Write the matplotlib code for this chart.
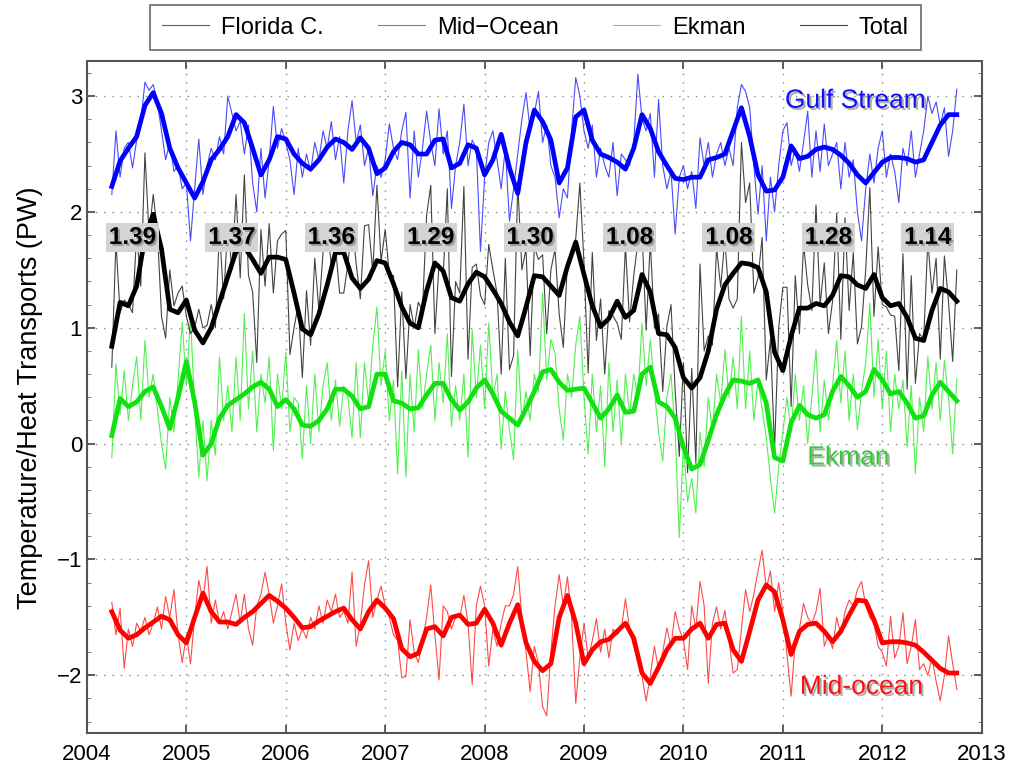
import numpy as np
import matplotlib
matplotlib.use('Agg')
import matplotlib.pyplot as plt
import matplotlib.patheffects as pe
from matplotlib.ticker import MultipleLocator

plt.rcParams['font.family'] = ['Liberation Sans', 'DejaVu Sans']

# thin series: half-monthly values starting 2004.25
florida_thin = [
    2.15, 2.70, 2.30, 2.55, 2.60, 2.38, 2.62, 2.78, 3.12, 3.05, 3.10, 2.95,
    2.70, 2.45, 2.60, 2.35, 2.40, 2.20, 2.25, 1.75, 2.20, 2.63, 2.15, 2.40,
    2.55, 2.45, 2.65, 2.50, 3.00, 2.85, 2.70, 2.78, 2.50, 2.75, 2.25, 2.00,
    2.55, 2.12, 2.45, 2.91, 2.55, 2.72, 2.60, 2.45, 2.15, 2.55, 2.30, 2.50,
    2.35, 2.60, 2.45, 2.70, 2.55, 2.78, 2.45, 2.65, 2.25, 2.70, 2.96, 2.60,
    2.75, 2.40, 2.55, 2.14, 2.40, 2.30, 2.45, 2.76, 2.55, 2.45, 2.70, 2.86,
    2.12, 2.70, 2.30, 2.55, 2.87, 2.60, 2.40, 2.89, 2.50, 2.70, 2.03, 2.40,
    2.60, 2.93, 2.40, 2.62, 2.55, 1.66, 2.30, 2.60, 2.70, 2.45, 2.20, 2.55,
    1.92, 2.20, 2.50, 2.80, 3.03, 2.70, 2.85, 3.04, 2.60, 2.75, 2.40, 2.30,
    1.95, 2.20, 2.12, 2.70, 3.16, 3.00, 2.70, 2.55, 2.75, 2.30, 2.55, 2.40,
    2.30, 2.60, 2.14, 2.50, 2.45, 2.40, 2.60, 3.19, 2.80, 2.70, 2.85, 2.30,
    2.97, 2.40, 2.20, 2.35, 1.81, 2.30, 2.40, 2.20, 2.35, 2.03, 2.64, 2.40,
    2.60, 2.30, 2.50, 2.60, 2.40, 2.55, 2.40, 2.90, 3.10, 3.04, 2.90, 2.40,
    1.98, 2.40, 1.75, 2.30, 2.00, 2.40, 2.70, 2.77, 2.40, 2.55, 2.35, 2.60,
    2.87, 2.30, 2.70, 2.35, 2.76, 2.40, 2.50, 2.60, 2.20, 2.60, 2.30, 2.45,
    2.00, 1.75, 2.20, 2.50, 2.25, 2.55, 2.70, 2.30, 2.50, 2.35, 2.08, 2.55,
    2.40, 2.70, 2.30, 2.50, 2.70, 3.00, 2.85, 2.95, 2.75, 2.90, 2.48, 2.70,
    3.06,
]
mid_thin = [
    -1.37, -1.65, -1.42, -1.94, -1.60, -1.75, -1.55, -1.62, -1.50, -1.65, -1.55, -1.41,
    -1.60, -1.32, -1.50, -1.26, -1.65, -1.89, -1.65, -1.90, -1.50, -1.18, -1.35, -1.06,
    -1.55, -1.35, -1.55, -1.45, -1.60, -1.45, -1.30, -1.55, -1.30, -1.60, -1.74, -1.40,
    -1.30, -1.11, -1.30, -1.55, -1.40, -1.21, -1.55, -1.78, -1.55, -1.70, -1.60, -1.68,
    -1.50, -1.60, -1.40, -1.55, -1.35, -1.45, -1.30, -1.50, -1.45, -1.55, -1.11, -1.75,
    -1.55, -1.22, -1.01, -1.50, -1.35, -1.23, -1.40, -1.50, -1.65, -1.70, -2.02, -2.01,
    -1.52, -1.80, -1.89, -1.70, -1.50, -1.22, -1.65, -2.04, -1.40, -1.45, -1.60, -1.50,
    -1.50, -1.31, -1.55, -2.08, -1.40, -1.23, -1.40, -1.92, -1.60, -1.75, -1.55, -1.40,
    -1.40, -1.30, -1.06, -1.50, -1.80, -2.14, -1.75, -1.90, -2.27, -2.35, -1.80, -1.40,
    -1.13, -1.40, -1.15, -1.50, -2.24, -1.85, -1.55, -1.85, -1.70, -1.51, -1.80, -1.60,
    -1.85, -1.60, -1.65, -1.60, -1.34, -1.60, -1.75, -1.85, -2.01, -2.22, -2.00, -1.75,
    -1.95, -1.80, -1.59, -1.75, -1.45, -1.60, -1.70, -1.95, -1.40, -1.60, -1.19, -1.40,
    -2.07, -1.55, -1.41, -1.60, -1.44, -1.70, -1.98, -1.95, -1.60, -1.26, -1.45, -1.30,
    -1.10, -0.92, -1.25, -1.10, -1.45, -1.20, -1.45, -1.82, -2.18, -1.70, -1.60, -1.38,
    -1.50, -1.55, -1.45, -1.25, -1.75, -1.65, -1.77, -1.50, -1.65, -1.45, -1.35, -1.40,
    -1.26, -1.19, -1.40, -1.50, -1.55, -1.75, -1.80, -1.92, -1.49, -1.85, -1.75, -1.46,
    -1.90, -1.75, -1.52, -1.95, -1.90, -2.00, -1.85, -2.05, -2.22, -2.00, -1.66, -1.90,
    -2.12,
]
ekman_thin = [
    -0.12, 0.69, 0.25, 0.63, 0.20, 0.50, 0.75, 0.20, 0.89, 0.40, 0.60, 0.30,
    0.00, -0.22, 0.40, 0.10, 0.55, 1.05, 0.50, 1.10, 0.30, -0.29, 0.20, -0.32,
    0.20, -0.10, 0.75, 0.20, 0.50, 0.10, 0.75, 0.20, 1.12, 0.30, 0.80, 0.10,
    0.60, 0.35, 0.75, -0.06, 0.60, 0.30, 0.79, 0.10, 0.40, 0.35, -0.13, 0.50,
    0.00, 0.60, 0.10, 0.50, 0.70, 0.20, 0.55, 0.15, 0.50, 0.40, 0.05, 0.70,
    0.05, 0.70, 0.35, 0.84, 1.18, 0.50, 0.80, 0.20, 0.55, -0.26, 0.63, -0.29,
    0.60, 0.10, 0.81, 0.30, 0.60, 0.85, 0.20, 0.70, 0.35, 0.95, 0.15, 0.50,
    0.20, 0.60, -0.12, 0.98, 0.40, 0.85, 0.30, 1.04, 0.40, 0.60, -0.05, 0.45,
    0.12, -0.14, 0.81, 0.20, 0.45, 0.20, 0.60, 0.45, 1.30, 0.55, 0.90, 0.78,
    0.30, 0.03, 0.60, 0.40, 0.85, 1.10, 0.40, -0.09, 0.60, 0.10, 0.50, -0.20,
    0.70, 0.10, 0.55, 0.00, 0.60, 0.25, 0.60, 0.40, 1.04, 0.50, 0.90, 0.45,
    0.10, -0.15, 0.40, 0.60, 0.10, -0.81, 0.00, -0.50, -0.30, -0.60, 0.10, -0.20,
    0.40, 0.10, 0.60, 0.35, 0.81, 0.40, 0.75, 0.30, 1.10, 0.30, 0.80, 0.20,
    0.55, 0.30, 0.05, -0.30, -0.60, -0.20, 0.10, 0.40, 0.10, 0.60, 0.20, 0.50,
    0.00, 0.40, 0.81, 0.10, 0.55, 0.20, 0.50, 0.89, 0.35, 0.80, 0.20, 0.60,
    0.12, 0.45, 0.70, 1.21, 0.40, 0.90, 0.30, 0.80, 0.10, 0.60, 0.30, 0.55,
    -0.03, 0.50, -0.26, 0.40, 0.10, 0.75, 0.30, 0.70, 0.20, 0.72, 0.40, -0.09,
    0.56,
]

# smoothed series: monthly values starting 2004.25
florida_smooth = [
    2.22, 2.44, 2.55, 2.65, 2.92, 3.03, 2.85, 2.55, 2.38, 2.25, 2.12, 2.26,
    2.45, 2.54, 2.65, 2.84, 2.77, 2.55, 2.32, 2.45, 2.65, 2.63, 2.50, 2.42,
    2.37, 2.45, 2.56, 2.63, 2.60, 2.54, 2.64, 2.55, 2.33, 2.38, 2.52, 2.60,
    2.58, 2.50, 2.50, 2.62, 2.63, 2.38, 2.42, 2.58, 2.55, 2.32, 2.45, 2.67,
    2.38, 2.16, 2.60, 2.88, 2.78, 2.62, 2.25, 2.38, 2.82, 2.88, 2.62, 2.50,
    2.47, 2.43, 2.37, 2.55, 2.84, 2.72, 2.52, 2.40, 2.29, 2.28, 2.30, 2.30,
    2.45, 2.47, 2.50, 2.70, 2.90, 2.65, 2.32, 2.18, 2.19, 2.30, 2.57, 2.46,
    2.48, 2.54, 2.56, 2.54, 2.49, 2.42, 2.32, 2.25, 2.34, 2.43, 2.47, 2.47,
    2.46, 2.43, 2.45, 2.60, 2.75, 2.84, 2.84,
]
mid_smooth = [
    -1.45, -1.61, -1.68, -1.65, -1.59, -1.54, -1.49, -1.52, -1.65, -1.72, -1.50, -1.29,
    -1.45, -1.54, -1.54, -1.56, -1.50, -1.45, -1.38, -1.31, -1.36, -1.42, -1.50, -1.59,
    -1.58, -1.53, -1.49, -1.45, -1.42, -1.52, -1.60, -1.45, -1.35, -1.42, -1.51, -1.77,
    -1.84, -1.81, -1.60, -1.58, -1.66, -1.50, -1.48, -1.56, -1.55, -1.43, -1.55, -1.74,
    -1.55, -1.39, -1.72, -1.88, -1.96, -1.90, -1.50, -1.31, -1.55, -1.90, -1.78, -1.71,
    -1.69, -1.62, -1.55, -1.68, -1.98, -2.07, -1.93, -1.78, -1.68, -1.68, -1.60, -1.55,
    -1.68, -1.56, -1.55, -1.78, -1.88, -1.62, -1.35, -1.22, -1.28, -1.52, -1.82, -1.62,
    -1.56, -1.55, -1.62, -1.71, -1.62, -1.48, -1.35, -1.36, -1.52, -1.72, -1.71, -1.71,
    -1.72, -1.74, -1.80, -1.87, -1.94, -1.98, -1.98,
]
ekman_smooth = [
    0.07, 0.39, 0.32, 0.36, 0.45, 0.49, 0.32, 0.13, 0.40, 0.71, 0.36, -0.10,
    0.00, 0.22, 0.33, 0.38, 0.43, 0.49, 0.53, 0.47, 0.32, 0.38, 0.30, 0.16,
    0.15, 0.20, 0.30, 0.47, 0.47, 0.41, 0.30, 0.32, 0.60, 0.60, 0.37, 0.35,
    0.30, 0.31, 0.42, 0.52, 0.52, 0.38, 0.29, 0.36, 0.48, 0.55, 0.43, 0.28,
    0.22, 0.16, 0.30, 0.45, 0.62, 0.64, 0.53, 0.46, 0.47, 0.48, 0.35, 0.22,
    0.30, 0.42, 0.27, 0.28, 0.60, 0.66, 0.36, 0.32, 0.22, -0.03, -0.22, -0.18,
    0.03, 0.25, 0.42, 0.55, 0.54, 0.52, 0.55, 0.35, -0.12, -0.15, 0.18, 0.33,
    0.25, 0.22, 0.25, 0.45, 0.58, 0.50, 0.40, 0.45, 0.64, 0.55, 0.43, 0.45,
    0.35, 0.22, 0.24, 0.42, 0.53, 0.45, 0.37,
]

# annual mean total transport labels
label_years = [2004, 2005, 2006, 2007, 2008, 2009, 2010, 2011, 2012]
label_values = ['1.39', '1.37', '1.36', '1.29', '1.30', '1.08', '1.08', '1.28', '1.14']

t_thin = 2004.25 + np.arange(len(florida_thin)) / 24.0
t_smooth = 2004.25 + np.arange(len(florida_smooth)) / 12.0

# total = sum of the three components
total_thin = np.array(florida_thin) + np.array(mid_thin) + np.array(ekman_thin)
total_smooth = np.array(florida_smooth) + np.array(mid_smooth) + np.array(ekman_smooth)

fig = plt.figure(figsize=(10.11, 7.67), dpi=100)
ax = fig.add_axes([0.086, 0.044, 0.885, 0.876])

l1, = ax.plot(t_thin, florida_thin, color='#2a2aff', lw=0.8, alpha=0.85, label='Florida C.')
l2, = ax.plot(t_thin, mid_thin, color='#ff2a2a', lw=0.8, alpha=0.85, label='Mid\u2212Ocean')
l3, = ax.plot(t_thin, ekman_thin, color='#33ee33', lw=0.8, alpha=0.85, label='Ekman')
l4, = ax.plot(t_thin, total_thin, color='#222222', lw=0.8, alpha=0.85, label='Total')

ax.plot(t_smooth, florida_smooth, color='#0000ff', lw=3.4)
ax.plot(t_smooth, mid_smooth, color='#ff0000', lw=3.4)
ax.plot(t_smooth, ekman_smooth, color='#11e011', lw=3.4)
ax.plot(t_smooth, total_smooth, color='black', lw=3.4)

shadow = [pe.withSimplePatchShadow(offset=(1.5, -1.5), shadow_rgbFace='#777777', alpha=0.6)]

for yr, v in zip(label_years, label_values):
    ax.text(yr + 0.22, 1.78, v, ha='left', va='center', fontsize=17.5, fontweight='bold',
            path_effects=shadow,
            bbox=dict(boxstyle='square,pad=0.12', fc='#d4d4d4', ec='none'))

ax.text(2011.73, 2.96, 'Gulf Stream', color='#1010ff', fontsize=19, ha='center', va='center',
        path_effects=shadow)
ax.text(2011.66, -0.12, 'Ekman', color='#33cc33', fontsize=19, ha='center', va='center',
        path_effects=shadow)
ax.text(2011.79, -2.10, 'Mid-ocean', color='#ff1010', fontsize=19, ha='center', va='center',
        path_effects=shadow)

ax.set_xlim(2004, 2013)
ax.set_ylim(-2.5, 3.3)
ax.set_xticks(range(2004, 2014))
ax.set_yticks(range(-2, 4))
ax.yaxis.set_minor_locator(MultipleLocator(0.2))
ax.tick_params(axis='both', which='both', direction='in', top=True, right=True, labelsize=16)
ax.tick_params(which='major', length=6, width=1.2, color='#444444')
ax.tick_params(which='minor', length=3, color='#666666')
ax.tick_params(axis='x', pad=8)
ax.grid(True, which='major', linestyle=(0, (1, 5)), color='#888888', lw=1.0)
for s in ax.spines.values():
    s.set_color('#555555')
    s.set_linewidth(1.5)
ax.set_ylabel('Temperature/Heat Transports (PW)', fontsize=19.5, labelpad=10)

leg = fig.legend(handles=[l1, l2, l3, l4], loc='center', bbox_to_anchor=(0.5297, 0.964),
                 ncol=4, frameon=True, fancybox=False, handlelength=2.0, columnspacing=2.3,
                 handletextpad=0.5, borderpad=0.5, fontsize=17)
leg.get_frame().set_edgecolor('#444444')
leg.get_frame().set_linewidth(1.2)

fig.savefig('out.png', dpi=100)
